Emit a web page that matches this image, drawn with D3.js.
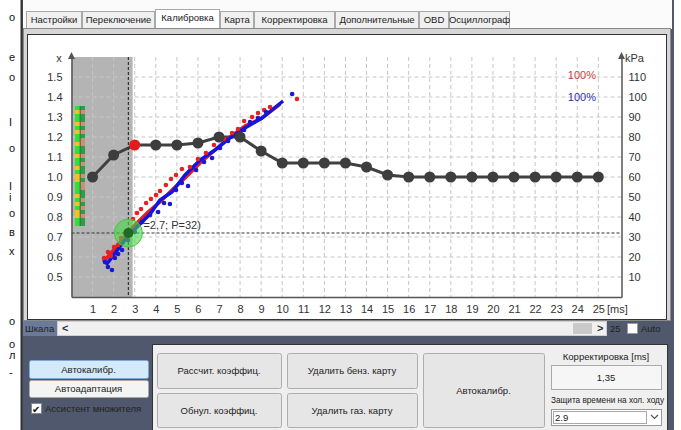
<!DOCTYPE html>
<html>
<head>
<meta charset="utf-8">
<title>Калибровка</title>
<script src="https://cdn.jsdelivr.net/npm/d3@7"></script>
<style>
body { margin: 0; background: #fff; }
svg { display: block; font-family: "Liberation Sans", Arial, sans-serif; }
.ui { font-size: 9.5px; fill: #222; }
.axis text { font-size: 11px; fill: #333; font-family: "Liberation Sans", Arial, sans-serif; }
.axis path { stroke: #555; stroke-width: 1.5; }
</style>
</head>
<body>
<svg id="chart" width="681" height="430"></svg>
<script>
// tabs of the program window
const tabNames = ["Настройки", "Переключение", "Калибровка", "Карта", "Корректировка", "Дополнительные", "OBD", "Осциллограф"];
const tabEdges = [26, 82, 155, 220, 254, 335, 419, 449, 510];
const activeTab = 2;

// axes
const msTicks = d3.range(1, 26);
const mulTicks = [0.5, 0.6, 0.7, 0.8, 0.9, 1.0, 1.1, 1.2, 1.3, 1.4, 1.5];
const kpaTicks = [10, 20, 30, 40, 50, 60, 70, 80, 90, 100, 110];

// multiplier per injection time (ms 1..25)
const multiplier = [1.00, 1.11, 1.16, 1.16, 1.16, 1.17, 1.20, 1.20, 1.13, 1.07, 1.07, 1.07, 1.07,
  1.05, 1.01, 1.00, 1.00, 1.00, 1.00, 1.00, 1.00, 1.00, 1.00, 1.00, 1.00];
const selectedPoint = 2;

// petrol (red) and gas (blue) maps: [ms, kPa]
const redTrend = [[1.50, 17.5], [1.92, 22.5], [2.40, 28.5], [3.01, 36], [3.63, 42.5], [4.20, 47.5], [4.77, 53.5],
  [5.39, 59.5], [6.10, 67], [6.81, 73.5], [7.52, 80], [8.23, 85.5], [9.04, 89.5], [9.90, 96.5]];
const blueTrend = [[1.64, 16], [2.11, 22.5], [2.68, 30.5], [3.25, 36.5], [3.73, 41.5], [4.20, 48.5], [4.77, 52.5],
  [5.39, 61], [6.10, 68.5], [6.81, 73.5], [7.52, 79.5], [8.23, 84.5], [9.04, 89.5], [10.04, 98]];
const redPoints = [[1.54, 19.5], [1.73, 22.5], [1.87, 20.5], [2.02, 25], [2.21, 26], [2.35, 29.5], [2.59, 33],
  [2.92, 39], [3.11, 42], [3.30, 44], [3.54, 47], [3.77, 49], [4.01, 51], [4.20, 53], [4.48, 56], [4.72, 59],
  [4.96, 61], [5.24, 64], [5.62, 65], [6.00, 69], [6.38, 72], [6.76, 76], [7.24, 79], [7.62, 82], [7.90, 84],
  [8.19, 88], [8.57, 90], [8.85, 92], [9.14, 93.5], [9.42, 95], [10.70, 99]];
const bluePoints = [[1.59, 17.5], [1.73, 15], [1.92, 13.5], [2.06, 19.5], [2.21, 21.5], [2.40, 23.5], [2.68, 28.5],
  [3.01, 32.5], [3.35, 37.5], [3.73, 41], [4.11, 42.5], [4.39, 47], [4.67, 46.5], [4.96, 53.5], [5.24, 57],
  [5.53, 55.5], [5.91, 63.5], [6.29, 67.5], [6.67, 69.5], [7.05, 74.5], [7.43, 78], [7.81, 80.5], [8.19, 83.5],
  [8.47, 87.5], [8.85, 89.5], [9.23, 92.5], [10.47, 101.5]];

// cursor and idle protection
const cursorMs = 2.7, cursorKpa = 32, idleLimitMs = 2.9;
const cursorLabel = "=2,7; P=32)";

// quality strip (g = green, y = yellow, G = dark green, b = brown)
const stripLeft  = "gyggygyggyggyggygyygggygygyygg";
const stripRight = "GbGGbGbGbbGGbGbGGbGbbGGbGbGbGG";

// left edge of the page behind the window
const edgeGlyphs = [[17, "о"], [57, "е"], [77, "о"], [122, "І"], [148, "о"], [186, "І"], [197, "і"],
  [213, "о"], [232, "в"], [251, "х"], [321, "о"], [344, "о"], [355, "л"], [372, "-"]];

const svg = d3.select("#chart");

svg.append("rect").attr("width", 681).attr("height", 430).attr("fill", "#fff");

svg.selectAll("text.edge").data(edgeGlyphs).join("text")
  .attr("class", "edge").attr("x", 9).attr("y", d => d[0] + 4)
  .attr("font-size", 11).attr("fill", "#111").text(d => d[1]);

// window background
svg.append("rect").attr("x", 21).attr("y", 0).attr("width", 653).attr("height", 430).attr("fill", "#4f586c");
svg.append("rect").attr("x", 23).attr("y", 0).attr("width", 649).attr("height", 29).attr("fill", "#fbfbfb");
svg.append("line").attr("x1", 21.5).attr("x2", 21.5).attr("y1", 0).attr("y2", 430).attr("stroke", "#333").attr("stroke-width", 2);

// tabs
tabNames.forEach((name, i) => {
  const x0 = tabEdges[i], x1 = tabEdges[i + 1];
  const active = i === activeTab;
  svg.append("rect")
    .attr("x", x0 + 0.5).attr("y", active ? 9.5 : 11.5)
    .attr("width", x1 - x0 - 1).attr("height", active ? 19 : 17)
    .attr("fill", active ? "#fff" : "#f0f0f0").attr("stroke", "#a9a9a9");
  svg.append("text").attr("class", "ui")
    .attr("x", (x0 + x1) / 2).attr("y", active ? 21 : 23)
    .attr("text-anchor", "middle").text(name);
});

// tab page and chart panel
svg.append("rect").attr("x", 23.5).attr("y", 28.5).attr("width", 647).attr("height", 292).attr("fill", "#d6d6d6").attr("stroke", "#8a8a8a");
svg.append("rect").attr("x", 27.5).attr("y", 34.5).attr("width", 639).attr("height", 285).attr("fill", "#fff").attr("stroke", "#333");

const x = d3.scaleLinear().domain([0, 26.1]).range([71.5, 621.5]);
const yL = d3.scaleLinear().domain([0.4, 1.6]).range([297, 57]);
const yR = d3.scaleLinear().domain([0, 120]).range([297, 57]);

const plot = svg.append("g");

// idle region
plot.append("rect")
  .attr("x", x(0)).attr("y", yL(1.6))
  .attr("width", x(idleLimitMs) - x(0)).attr("height", yL(0.4) - yL(1.6))
  .attr("fill", "#b4b4b4");

// grid
plot.selectAll("line.vgrid").data(msTicks).join("line")
  .attr("x1", d => x(d)).attr("x2", d => x(d))
  .attr("y1", yL(1.6)).attr("y2", yL(0.4))
  .attr("stroke", "#c6c6c6").attr("stroke-dasharray", "4,3");
plot.selectAll("line.hgrid").data(mulTicks).join("line")
  .attr("x1", x(0)).attr("x2", x(26.1))
  .attr("y1", d => yL(d)).attr("y2", d => yL(d))
  .attr("stroke", "#c6c6c6").attr("stroke-dasharray", "4,3");

// quality strip
const stripColors = { g: "#2ee03a", y: "#f2c21e", G: "#27a04a", b: "#c4937a" };
plot.selectAll("rect.sl").data(stripLeft.split("")).join("rect")
  .attr("x", 75).attr("y", (d, i) => 106 + i * 4).attr("width", 5).attr("height", 4)
  .attr("fill", d => stripColors[d]);
plot.selectAll("rect.sr").data(stripRight.split("")).join("rect")
  .attr("x", 80.5).attr("y", (d, i) => 106 + i * 4).attr("width", 4.5).attr("height", 4)
  .attr("fill", d => stripColors[d]);
plot.append("line").attr("x1", 80.2).attr("x2", 80.2).attr("y1", 106).attr("y2", 226).attr("stroke", "#3a3a3a").attr("stroke-width", 0.8);

// multiplier curve
const mulLine = d3.line().x((d, i) => x(i + 1)).y(d => yL(d));
plot.append("path").attr("d", mulLine(multiplier))
  .attr("fill", "none").attr("stroke", "#404040").attr("stroke-width", 3);

// maps
const mapLine = d3.line().x(d => x(d[0])).y(d => yR(d[1]));
plot.append("path").attr("d", mapLine(redTrend)).attr("fill", "none").attr("stroke", "#e61e1e").attr("stroke-width", 3.5);
plot.append("path").attr("d", mapLine(blueTrend)).attr("fill", "none").attr("stroke", "#1414e0").attr("stroke-width", 3.5);
plot.selectAll("circle.rp").data(redPoints).join("circle")
  .attr("cx", d => x(d[0])).attr("cy", d => yR(d[1])).attr("r", 2.3).attr("fill", "#e82020");
plot.selectAll("circle.bp").data(bluePoints).join("circle")
  .attr("cx", d => x(d[0])).attr("cy", d => yR(d[1])).attr("r", 2.3).attr("fill", "#1818d0");

plot.selectAll("circle.mp").data(multiplier).join("circle")
  .attr("cx", (d, i) => x(i + 1)).attr("cy", d => yL(d)).attr("r", 5.5)
  .attr("fill", (d, i) => i === selectedPoint ? "#e01c1c" : "#3d3d3d");

// cursor
plot.append("line").attr("x1", x(cursorMs)).attr("x2", x(cursorMs)).attr("y1", yL(1.6)).attr("y2", yL(0.4))
  .attr("stroke", "#333").attr("stroke-width", 1.2).attr("stroke-dasharray", "3,2");
plot.append("line").attr("x1", x(0)).attr("x2", x(26.1)).attr("y1", yR(cursorKpa)).attr("y2", yR(cursorKpa))
  .attr("stroke", "#333").attr("stroke-width", 1.2).attr("stroke-dasharray", "3,2");
plot.append("circle").attr("cx", x(cursorMs)).attr("cy", yR(cursorKpa)).attr("r", 14)
  .attr("fill", "rgba(70,215,70,0.6)").attr("stroke", "#45c845");
plot.append("circle").attr("cx", x(cursorMs)).attr("cy", yR(cursorKpa)).attr("r", 5).attr("fill", "#1f6b1f");
plot.append("text").attr("x", x(cursorMs) + 15).attr("y", yR(cursorKpa) - 4)
  .attr("font-size", 11).attr("fill", "#333").text(cursorLabel);

// 100% labels
plot.append("text").attr("x", 596).attr("y", 79).attr("text-anchor", "end").attr("font-size", 11).attr("fill", "#d03c3c").text("100%");
plot.append("text").attr("x", 596).attr("y", 101).attr("text-anchor", "end").attr("font-size", 11).attr("fill", "#3030b0").text("100%");

// axes
svg.append("g").attr("class", "axis")
  .attr("transform", `translate(0,${yL(0.4)})`)
  .call(d3.axisBottom(x).tickValues(msTicks).tickSize(0).tickSizeOuter(0).tickPadding(8));
svg.append("g").attr("class", "axis")
  .attr("transform", `translate(${x(0)},0)`)
  .call(d3.axisLeft(yL).tickValues(mulTicks).tickSize(0).tickSizeOuter(0).tickPadding(9).tickFormat(d3.format(".1f")));
svg.append("g").attr("class", "axis")
  .attr("transform", `translate(${x(26.1)},0)`)
  .call(d3.axisRight(yR).tickValues(kpaTicks).tickSize(0).tickSizeOuter(0).tickPadding(7));

[x(0), x(26.1)].forEach(ax => {
  svg.append("path").attr("d", `M${ax - 3.5},${yL(1.6) + 2}L${ax},${yL(1.6) - 5}L${ax + 3.5},${yL(1.6) + 2}Z`).attr("fill", "#555");
});
svg.append("text").attr("x", 59).attr("y", 62).attr("text-anchor", "middle").attr("font-size", 11).attr("fill", "#333").text("x");
svg.append("text").attr("x", 625).attr("y", 62).attr("font-size", 11).attr("fill", "#333").text("kPa");
svg.append("text").attr("x", 607).attr("y", 313).attr("font-size", 11).attr("fill", "#333").text("[ms]");

// scale row
svg.append("rect").attr("x", 23).attr("y", 321).attr("width", 34).attr("height", 15).attr("fill", "#6b7a98");
svg.append("text").attr("class", "ui").attr("x", 25).attr("y", 332).attr("fill", "#d8dcea").text("Шкала");
svg.append("rect").attr("x", 57.5).attr("y", 321.5).attr("width", 549).attr("height", 14).attr("fill", "#f0f0f0").attr("stroke", "#cfcfcf");
svg.append("text").attr("x", 62).attr("y", 332).attr("font-size", 11).attr("font-weight", "bold").attr("fill", "#333").text("<");
svg.append("rect").attr("x", 573).attr("y", 323).attr("width", 19).attr("height", 11).attr("fill", "#c9c9c9");
svg.append("text").attr("x", 597).attr("y", 332).attr("font-size", 11).attr("font-weight", "bold").attr("fill", "#333").text(">");
svg.append("text").attr("class", "ui").attr("x", 610).attr("y", 332).attr("fill", "#c4cada").text("25");
svg.append("rect").attr("x", 627.5).attr("y", 323.5).attr("width", 10).attr("height", 10).attr("fill", "#fff").attr("stroke", "#999");
svg.append("text").attr("class", "ui").attr("x", 641).attr("y", 332).attr("fill", "#c4cada").text("Auto");

// left buttons
function button(bx, by, bw, bh, label, fill, stroke) {
  svg.append("rect").attr("x", bx + 0.5).attr("y", by + 0.5).attr("width", bw).attr("height", bh).attr("rx", 2)
    .attr("fill", fill).attr("stroke", stroke);
  svg.append("text").attr("class", "ui").attr("x", bx + bw / 2).attr("y", by + bh / 2 + 3.5)
    .attr("text-anchor", "middle").text(label);
}
button(29, 360, 119, 18, "Автокалибр.", "#d4e9f9", "#7aa8d8");
button(29, 380, 119, 17, "Автоадаптация", "#f4f4f4", "#a8a8a8");
svg.append("rect").attr("x", 31.5).attr("y", 403.5).attr("width", 10).attr("height", 10).attr("fill", "#fff").attr("stroke", "#888");
svg.append("text").attr("x", 32).attr("y", 412.5).attr("font-size", 10).attr("fill", "#111").text("✔");
svg.append("text").attr("class", "ui").attr("x", 45).attr("y", 412).attr("fill", "#eef0f4").text("Ассистент множителя");

// right panel
svg.append("rect").attr("x", 152.5).attr("y", 344.5).attr("width", 515).attr("height", 90).attr("fill", "#efefef").attr("stroke", "#333");
button(157, 353, 124, 35, "Рассчит. коэффиц.", "#e6e6e6", "#adadad");
button(157, 393, 124, 34, "Обнул. коэффиц.", "#e6e6e6", "#adadad");
button(287, 353, 130, 35, "Удалить бенз. карту", "#e6e6e6", "#adadad");
button(287, 393, 130, 34, "Удалить газ. карту", "#e6e6e6", "#adadad");
button(423, 353, 121, 74, "Автокалибр.", "#e6e6e6", "#adadad");

svg.append("text").attr("class", "ui").attr("x", 606).attr("y", 360).attr("text-anchor", "middle").text("Корректировка [ms]");
svg.append("rect").attr("x", 551.5).attr("y", 365.5).attr("width", 110).attr("height", 24).attr("fill", "#f6f6f6").attr("stroke", "#aaa");
svg.append("text").attr("class", "ui").attr("x", 606).attr("y", 381).attr("text-anchor", "middle").text("1,35");
svg.append("text").attr("class", "ui").attr("x", 551).attr("y", 403)
  .attr("textLength", 113).attr("lengthAdjust", "spacingAndGlyphs").text("Защита времени на хол.  ходу");
svg.append("rect").attr("x", 551.5).attr("y", 409.5).attr("width", 110).attr("height", 16).attr("fill", "#fff").attr("stroke", "#999");
svg.append("rect").attr("x", 553.5).attr("y", 411.5).attr("width", 93).attr("height", 12).attr("fill", "none").attr("stroke", "#555").attr("stroke-dasharray", "1,1");
svg.append("text").attr("class", "ui").attr("x", 555).attr("y", 421).text("2.9");
svg.append("path").attr("d", "M651,415L654.5,418.5L658,415").attr("fill", "none").attr("stroke", "#555").attr("stroke-width", 1.2);
</script>
</body>
</html>
